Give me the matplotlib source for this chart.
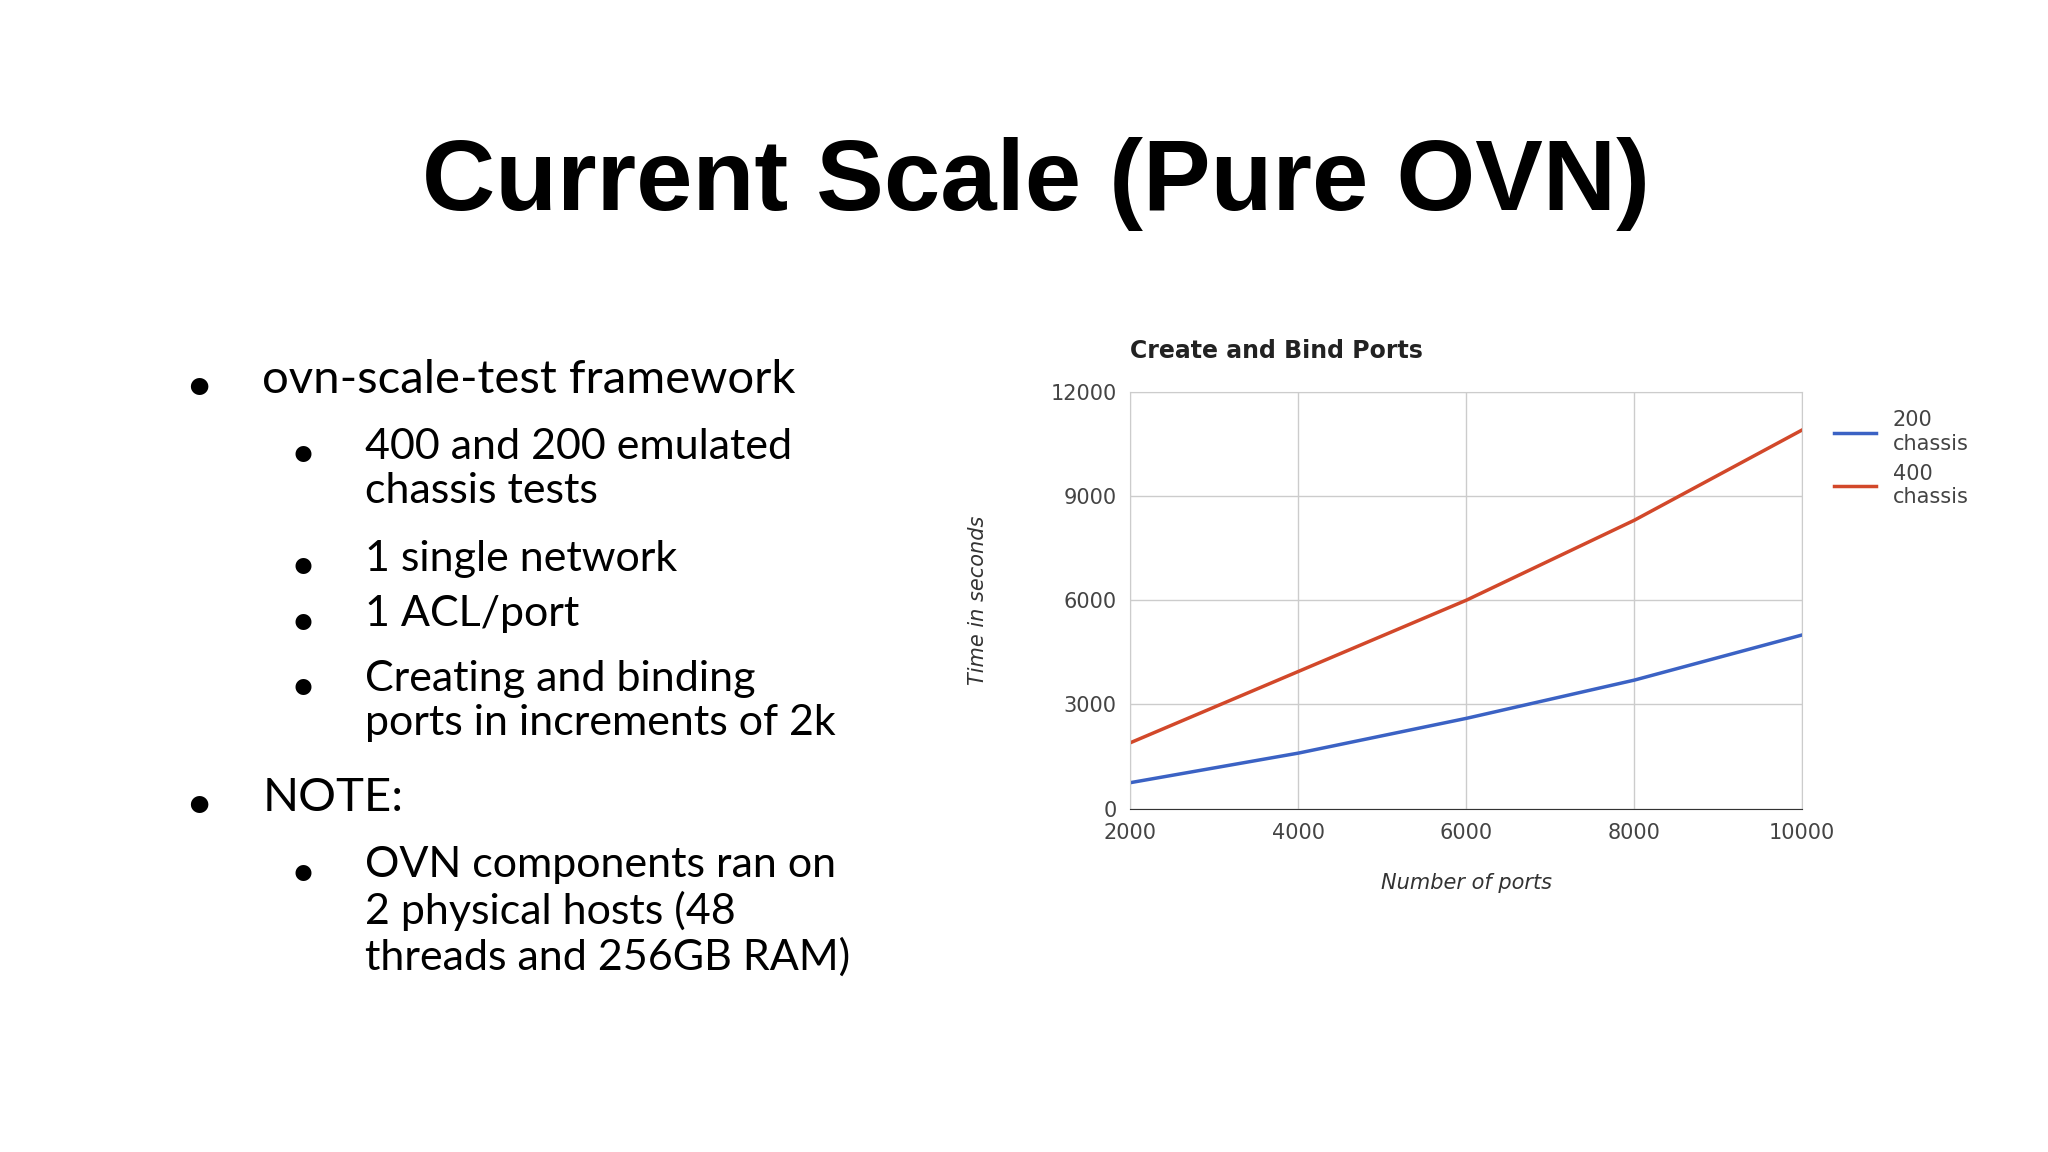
import matplotlib.pyplot as plt

ports = [2000, 4000, 6000, 8000, 10000]
chassis_200 = [750, 1600, 2600, 3700, 5000]
chassis_400 = [1900, 3950, 6000, 8300, 10900]

bullets = [
    (0, 'ovn-scale-test framework'),
    (1, '400 and 200 emulated\nchassis tests'),
    (1, '1 single network'),
    (1, '1 ACL/port'),
    (1, 'Creating and binding\nports in increments of 2k'),
    (0, 'NOTE:'),
    (1, 'OVN components ran on\n2 physical hosts (48\nthreads and 256GB RAM)'),
]
bullet_y = [293, 345, 430, 472, 521, 610, 662]

fig = plt.figure(figsize=(20.48, 11.52), dpi=100)
fig.text(0.506, 0.84, 'Current Scale (Pure OVN)', ha='center', va='center',
         fontsize=73, fontweight='bold', family='Liberation Sans')

for (lvl, txt), y in zip(bullets, bullet_y):
    fy = 1 - y / 873
    bx, tx = (0.097, 0.128) if lvl == 0 else (0.148, 0.178)
    fs = 34 if lvl == 0 else 31
    fig.text(bx, fy, '•', ha='center', va='center', fontsize=fs, family='Lato')
    fig.text(tx, fy + 0.024, txt, ha='left', va='top', fontsize=fs, family='Lato',
             linespacing=1.2)

ax = fig.add_axes([0.552, 0.298, 0.328, 0.362])
ax.plot(ports, chassis_200, color='#3b62c4', lw=2.5, label='200\nchassis')
ax.plot(ports, chassis_400, color='#d2482a', lw=2.5, label='400\nchassis')
ax.set_xlim(2000, 10000)
ax.set_ylim(0, 12000)
ax.set_xticks(ports)
ax.set_yticks([0, 3000, 6000, 9000, 12000])
ax.grid(True, color='#cccccc', lw=1)
for s in ax.spines.values():
    s.set_color('#cccccc')
ax.spines['bottom'].set_color('#333333')
ax.tick_params(length=0, labelsize=15, colors='#444444', pad=10)
ax.set_title('Create and Bind Ports', loc='left', fontsize=17, fontweight='bold',
             color='#222222', pad=24, x=0.0)
ax.set_xlabel('Number of ports', fontsize=15, style='italic', color='#333333', labelpad=22)
ax.set_ylabel('Time in seconds', fontsize=15, style='italic', color='#333333', labelpad=45)
ax.legend(loc='upper left', bbox_to_anchor=(1.02, 1.0), frameon=False,
          fontsize=15, labelcolor='#444444', handlelength=2, labelspacing=0.5)

fig.savefig('out.png')
